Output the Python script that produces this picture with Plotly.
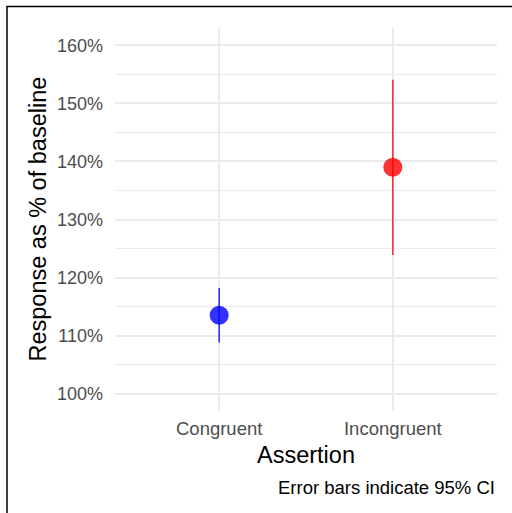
import plotly.graph_objects as go

categories = ["Congruent", "Incongruent"]
means = [113.5, 139.0]
lower = [108.8, 123.9]
upper = [118.2, 154.1]
colors = ["rgba(0,0,255,0.8)", "rgba(255,0,0,0.8)"]
y_ticks = [100, 110, 120, 130, 140, 150, 160]
y_tick_labels = [f"{v}%" for v in y_ticks]

W, H = 512, 513
L, R, T, B = 115, 15, 28, 102
pw, ph = W - L - R, H - T - B

def px_x(p):
    return (p - L) / pw

def px_y(p):
    return (H - B - p) / ph

fig = go.Figure()
xs = list(range(1, len(categories) + 1))
for i, cat in enumerate(categories):
    fig.add_trace(go.Scatter(
        x=[xs[i]], y=[means[i]], mode="markers",
        marker=dict(size=19, color=colors[i], line=dict(width=0)),
        error_y=dict(type="data", symmetric=False,
                     array=[upper[i] - means[i]], arrayminus=[means[i] - lower[i]],
                     color=colors[i], thickness=1.6, width=0),
        showlegend=False, name=cat,
    ))

font = "Liberation Sans, Arial, sans-serif"
fig.update_layout(
    width=W, height=H,
    margin=dict(l=L, r=R, t=T, b=B),
    paper_bgcolor="white", plot_bgcolor="white",
    font=dict(family=font),
    xaxis=dict(range=[0.4, 2.6], tickvals=xs, ticktext=categories,
               showgrid=True, gridcolor="#EBEBEB", gridwidth=2,
               zeroline=False, showline=False, ticks="",
               tickfont=dict(size=18.5, color="#4D4D4D"), ticklabelstandoff=4),
    yaxis=dict(range=[97, 163], tickvals=y_ticks, ticktext=y_tick_labels,
               showgrid=True, gridcolor="#EBEBEB", gridwidth=2,
               zeroline=False, showline=False, ticks="",
               minor=dict(tickvals=[105, 115, 125, 135, 145, 155], showgrid=True,
                          gridcolor="#EBEBEB", gridwidth=1.2),
               tickfont=dict(size=18, color="#4D4D4D"), ticklabelstandoff=11),
)

fig.add_annotation(text="Response as % of baseline", xref="paper", yref="paper",
                   x=px_x(37), y=px_y(219.5), textangle=-90, showarrow=False,
                   xanchor="center", yanchor="middle",
                   font=dict(size=23.5, color="black", family=font))
fig.add_annotation(text="Assertion", xref="paper", yref="paper",
                   x=px_x(306), y=px_y(455), showarrow=False,
                   xanchor="center", yanchor="middle",
                   font=dict(size=23.5, color="black", family=font))
fig.add_annotation(text="Error bars indicate 95% CI", xref="paper", yref="paper",
                   x=px_x(497), y=px_y(487), showarrow=False,
                   xanchor="right", yanchor="middle",
                   font=dict(size=18.5, color="black", family=font))

fig.add_shape(type="rect", xref="paper", yref="paper",
              x0=px_x(7), x1=px_x(530), y0=px_y(530), y1=px_y(6.5),
              line=dict(color="black", width=1.5), fillcolor="rgba(0,0,0,0)",
              layer="above")

fig.write_html("out.html", config={"displayModeBar": False},
               post_script="document.body.style.margin='0';")
